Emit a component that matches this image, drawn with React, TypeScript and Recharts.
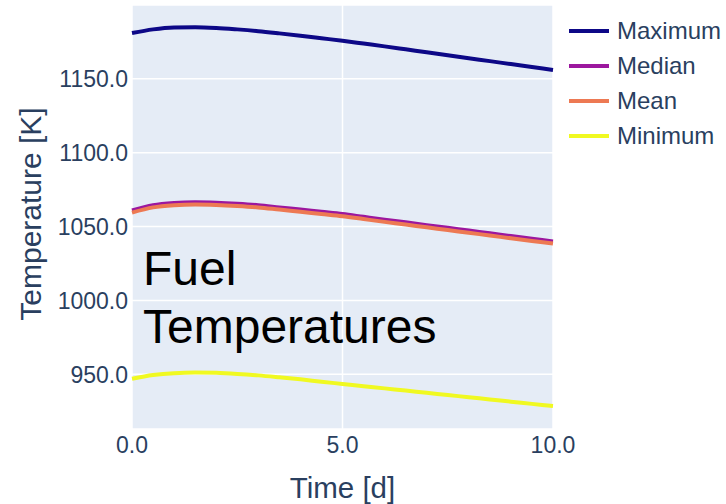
import { LineChart, Line, XAxis, YAxis, CartesianGrid } from "recharts"

const TIME = [0, 0.5, 1, 1.5, 2, 2.5, 3, 3.5, 4, 4.5, 5, 5.5, 6, 6.5, 7, 7.5, 8, 8.5, 9, 9.5, 10]
const MAXIMUM = [1181, 1183.5, 1184.8, 1185, 1184.5, 1183.5, 1182.3, 1180.8, 1179.2, 1177.5, 1175.8, 1173.9, 1172, 1170, 1168, 1166, 1164, 1162, 1160, 1158, 1156]
const MEDIAN = [1061, 1064.5, 1066, 1066.5, 1066.2, 1065.5, 1064.5, 1063, 1061.5, 1060, 1058.5, 1056.6, 1054.7, 1052.9, 1051, 1049.2, 1047.3, 1045.5, 1043.6, 1041.8, 1040]
const MEAN = [1059.5, 1063, 1064.5, 1065, 1064.7, 1064, 1063, 1061.5, 1060, 1058.5, 1057, 1055.1, 1053.2, 1051.4, 1049.5, 1047.7, 1045.8, 1044, 1042.1, 1040.3, 1038.5]
const MINIMUM = [947, 949.5, 950.8, 951.2, 951, 950.3, 949.3, 948, 946.6, 945, 943.5, 942, 940.5, 939, 937.5, 936, 934.5, 933, 931.5, 930, 928.5]
const X_TICKS = [0, 5, 10]
const Y_TICKS = [950, 1000, 1050, 1100, 1150]

const SERIES = [
  { key: "Maximum", color: "#0d0887" },
  { key: "Median", color: "#9c179e" },
  { key: "Mean", color: "#ed7953" },
  { key: "Minimum", color: "#f0f921" },
]

const data = TIME.map((t, i) => ({
  t,
  Maximum: MAXIMUM[i],
  Median: MEDIAN[i],
  Mean: MEAN[i],
  Minimum: MINIMUM[i],
}))

const FONT = "'Liberation Sans', Arial, sans-serif"
const TEXT = "#2a3f5f"

function LegendBox() {
  return (
    <div style={{ position: "absolute", left: 569, top: 13, fontFamily: FONT, fontSize: 24, color: TEXT }}>
      {SERIES.map((s) => (
        <div key={s.key} style={{ display: "flex", alignItems: "center", height: 35 }}>
          <span style={{ width: 40, height: 4, background: s.color, marginRight: 8, display: "inline-block" }} />
          <span>{s.key}</span>
        </div>
      ))}
    </div>
  )
}

function YTitle(props: any) {
  const vb = props.viewBox
  const cy = vb.y + vb.height / 2 - 3
  return (
    <text
      x={30}
      y={cy}
      transform={`rotate(-90, 30, ${cy})`}
      textAnchor="middle"
      dominantBaseline="central"
      fill={TEXT}
      fontSize={30}
      fontFamily={FONT}
    >
      Temperature [K]
    </text>
  )
}

export default function App() {
  return (
    <div style={{ position: "absolute", left: 0, top: 0, width: 726, height: 504, background: "#fff" }}>
      <LineChart width={726} height={504} data={data} margin={{ top: 5, right: 173, left: 0, bottom: 0 }}>
        <CartesianGrid fill="#e5ecf6" stroke="#ffffff" strokeWidth={1.5} />
        <XAxis
          dataKey="t"
          type="number"
          domain={[0, 10]}
          ticks={X_TICKS}
          tickFormatter={(v: number) => v.toFixed(1)}
          axisLine={false}
          tickLine={false}
          tickSize={0}
          tickMargin={8}
          height={75}
          tick={{ fill: TEXT, fontSize: 23, fontFamily: FONT }}
          label={{ value: "Time [d]", position: "insideBottom", offset: 6, fill: TEXT, fontSize: 29.5, fontFamily: FONT }}
        />
        <YAxis
          type="number"
          domain={[913, 1200]}
          ticks={Y_TICKS}
          allowDataOverflow
          tickFormatter={(v: number) => v.toFixed(1)}
          axisLine={false}
          tickLine={false}
          tickSize={0}
          tickMargin={4}
          width={132}
          tick={{ fill: TEXT, fontSize: 23, fontFamily: FONT }}
          label={<YTitle />}
        />
        {SERIES.map((s) => (
          <Line
            key={s.key}
            type="monotone"
            dataKey={s.key}
            stroke={s.color}
            strokeWidth={4}
            dot={false}
            isAnimationActive={false}
          />
        ))}
      </LineChart>
      <LegendBox />
      <div
        style={{
          position: "absolute",
          left: 143,
          top: 240,
          fontFamily: FONT,
          fontSize: 48,
          lineHeight: "58px",
          color: "#000",
        }}
      >
        Fuel
        <br />
        Temperatures
      </div>
    </div>
  )
}
